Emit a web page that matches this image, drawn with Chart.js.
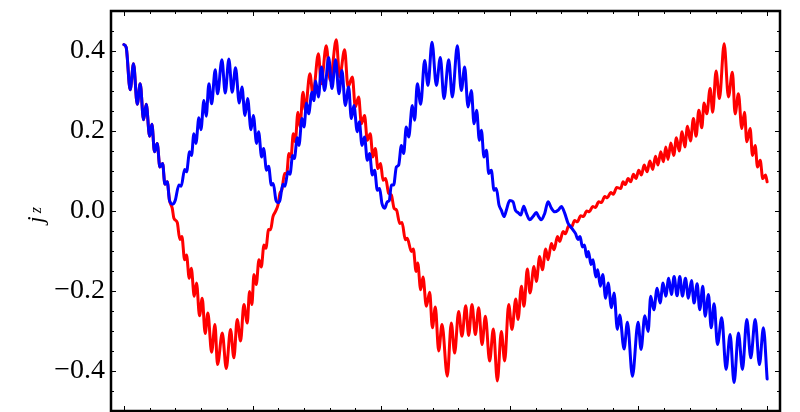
<!DOCTYPE html>
<html>
<head>
<meta charset="utf-8">
<script src="https://cdn.jsdelivr.net/npm/chart.js@4"></script>
<style>
  html, body { margin: 0; padding: 0; background: #fff; }
  #quadro { width: 800px; height: 412px; position: relative; }
</style>
</head>
<body>
<div id="quadro"><canvas id="grafico"></canvas></div>
<script>
/* j_z em função do tempo: curva azul e curva vermelha. */
const blueX = [
  0, 0.018, 0.049, 0.075, 0.104, 0.127, 0.153, 0.174, 0.200, 0.218,
  0.238, 0.259, 0.280, 0.301, 0.319, 0.337, 0.355, 0.381, 0.399, 0.428,
  0.446, 0.472, 0.487, 0.511, 0.526, 0.544, 0.560, 0.583, 0.599, 0.622,
  0.640, 0.661, 0.682, 0.710, 0.728, 0.762, 0.788, 0.816, 0.842, 0.868,
  0.897, 0.918, 0.941, 0.962, 0.988, 1.006, 1.032, 1.047, 1.071, 1.086,
  1.109, 1.125, 1.146, 1.161, 1.182, 1.198, 1.213, 1.236, 1.252, 1.275,
  1.291, 1.312, 1.325, 1.348, 1.361, 1.384, 1.400, 1.420, 1.436, 1.462,
  1.477, 1.490, 1.512, 1.536, 1.560, 1.592, 1.617, 1.646, 1.672, 1.695,
  1.721, 1.747, 1.768, 1.788, 1.814, 1.830, 1.851, 1.871, 1.892, 1.910,
  1.931, 1.949, 1.970, 1.988, 2.006, 2.027, 2.048, 2.063, 2.079, 2.097,
  2.118, 2.136, 2.157, 2.175, 2.195, 2.214, 2.242, 2.260, 2.281, 2.307,
  2.338, 2.364, 2.395, 2.429, 2.460, 2.488, 2.525, 2.553, 2.592, 2.623,
  2.649, 2.675, 2.701, 2.722, 2.742, 2.763, 2.779, 2.799, 2.818, 2.836,
  2.856, 2.877, 2.895, 2.916, 2.934, 2.955, 2.973, 2.999, 3.025, 3.043,
  3.064, 3.085, 3.108, 3.129, 3.154, 3.180, 3.206, 3.224, 3.245, 3.271,
  3.297, 3.323, 3.349, 3.375, 3.401, 3.427, 3.453, 3.473, 3.491, 3.510,
  3.530, 3.546, 3.564, 3.580, 3.598, 3.611, 3.631, 3.647, 3.668, 3.683,
  3.704, 3.722, 3.745, 3.764, 3.790, 3.810, 3.836, 3.854, 3.888, 3.914,
  3.953, 3.997, 4.020, 4.049, 4.075, 4.095, 4.119, 4.145, 4.168, 4.191,
  4.212, 4.235, 4.256, 4.277, 4.300, 4.321, 4.342, 4.365, 4.388, 4.412,
  4.432, 4.456, 4.476, 4.500, 4.518, 4.544, 4.565, 4.588, 4.614, 4.647,
  4.681, 4.712, 4.743, 4.777, 4.808, 4.842, 4.873, 4.907, 4.940, 4.971,
  5.000
];
const blueY = [
  0.416, 0.409, 0.303, 0.368, 0.267, 0.318, 0.228, 0.267, 0.187, 0.217,
  0.148, 0.169, 0.110, 0.119, 0.067, 0.073, 0.026, 0.017, 0.026, 0.065,
  0.062, 0.104, 0.098, 0.148, 0.139, 0.193, 0.169, 0.233, 0.203, 0.276,
  0.237, 0.318, 0.268, 0.353, 0.293, 0.378, 0.295, 0.380, 0.297, 0.358,
  0.270, 0.310, 0.239, 0.281, 0.203, 0.239, 0.169, 0.198, 0.135, 0.156,
  0.102, 0.112, 0.065, 0.069, 0.027, 0.021, 0.027, 0.067, 0.062, 0.098,
  0.092, 0.139, 0.131, 0.183, 0.164, 0.231, 0.210, 0.270, 0.243, 0.297,
  0.276, 0.325, 0.285, 0.360, 0.301, 0.384, 0.306, 0.378, 0.293, 0.351,
  0.264, 0.310, 0.231, 0.264, 0.198, 0.223, 0.164, 0.185, 0.127, 0.144,
  0.090, 0.102, 0.052, 0.056, 0.019, 0.007, 0.023, 0.026, 0.065, 0.065,
  0.110, 0.115, 0.164, 0.144, 0.210, 0.185, 0.264, 0.227, 0.318, 0.267,
  0.376, 0.314, 0.422, 0.314, 0.384, 0.281, 0.378, 0.285, 0.413, 0.301,
  0.360, 0.260, 0.301, 0.218, 0.252, 0.177, 0.202, 0.135, 0.152, 0.094,
  0.102, 0.052, 0.056, 0.015, 0.002, -0.014, 0.002, 0.026, 0.023, 0.002,
  -0.004, -0.010, 0.012, -0.006, -0.022, -0.014, -0.004, -0.014, -0.022, -0.006,
  0.023, 0.007, -0.002, 0.002, 0.011, -0.006, -0.031, -0.039, -0.047, -0.056,
  -0.071, -0.064, -0.090, -0.085, -0.115, -0.101, -0.134, -0.122, -0.165, -0.147,
  -0.188, -0.159, -0.218, -0.180, -0.242, -0.205, -0.296, -0.260, -0.345, -0.278,
  -0.413, -0.278, -0.346, -0.262, -0.301, -0.213, -0.247, -0.193, -0.230, -0.180,
  -0.213, -0.168, -0.209, -0.164, -0.212, -0.164, -0.213, -0.168, -0.218, -0.174,
  -0.230, -0.182, -0.247, -0.188, -0.263, -0.209, -0.292, -0.232, -0.334, -0.267,
  -0.396, -0.309, -0.429, -0.305, -0.396, -0.271, -0.367, -0.271, -0.384, -0.292,
  -0.420
];
const redX = [
  0, 0.018, 0.049, 0.075, 0.104, 0.127, 0.153, 0.174, 0.200, 0.218,
  0.238, 0.259, 0.280, 0.301, 0.319, 0.337, 0.355, 0.376, 0.389, 0.415,
  0.435, 0.451, 0.472, 0.487, 0.508, 0.524, 0.547, 0.565, 0.588, 0.609,
  0.632, 0.653, 0.682, 0.708, 0.728, 0.765, 0.796, 0.829, 0.855, 0.881,
  0.907, 0.933, 0.959, 0.977, 0.995, 1.011, 1.029, 1.050, 1.068, 1.089,
  1.104, 1.125, 1.140, 1.159, 1.177, 1.198, 1.213, 1.229, 1.249, 1.265,
  1.283, 1.299, 1.317, 1.332, 1.353, 1.369, 1.392, 1.410, 1.446, 1.470,
  1.512, 1.534, 1.573, 1.604, 1.651, 1.677, 1.716, 1.742, 1.776, 1.799,
  1.825, 1.846, 1.871, 1.892, 1.915, 1.936, 1.954, 1.975, 1.996, 2.014,
  2.035, 2.058, 2.079, 2.100, 2.120, 2.144, 2.162, 2.188, 2.203, 2.234,
  2.250, 2.271, 2.284, 2.307, 2.325, 2.351, 2.377, 2.398, 2.421, 2.447,
  2.473, 2.514, 2.545, 2.571, 2.602, 2.628, 2.657, 2.680, 2.706, 2.732,
  2.758, 2.784, 2.810, 2.843, 2.872, 2.903, 2.934, 2.960, 2.991, 3.017,
  3.046, 3.064, 3.090, 3.110, 3.136, 3.157, 3.188, 3.206, 3.232, 3.253,
  3.279, 3.297, 3.323, 3.344, 3.370, 3.388, 3.414, 3.432, 3.458, 3.478,
  3.504, 3.525, 3.551, 3.572, 3.598, 3.618, 3.644, 3.665, 3.691, 3.712,
  3.738, 3.758, 3.784, 3.805, 3.831, 3.862, 3.880, 3.898, 3.919, 3.940,
  3.961, 3.981, 4.002, 4.023, 4.044, 4.067, 4.088, 4.111, 4.132, 4.152,
  4.173, 4.194, 4.212, 4.230, 4.251, 4.274, 4.295, 4.316, 4.339, 4.360,
  4.381, 4.404, 4.427, 4.448, 4.469, 4.492, 4.510, 4.531, 4.557, 4.577,
  4.603, 4.629, 4.666, 4.699, 4.730, 4.751, 4.777, 4.803, 4.824, 4.842,
  4.868, 4.886, 4.907, 4.925, 4.946, 4.966, 4.987, 5.000
];
const redY = [
  0.416, 0.409, 0.303, 0.368, 0.267, 0.318, 0.228, 0.267, 0.187, 0.217,
  0.148, 0.169, 0.110, 0.119, 0.067, 0.073, 0.026, 0.007, -0.018, -0.029,
  -0.071, -0.064, -0.122, -0.110, -0.168, -0.143, -0.213, -0.180, -0.262, -0.218,
  -0.306, -0.255, -0.353, -0.284, -0.384, -0.305, -0.394, -0.296, -0.367, -0.271,
  -0.325, -0.234, -0.280, -0.201, -0.234, -0.159, -0.184, -0.122, -0.140, -0.085,
  -0.093, -0.046, -0.047, -0.014, -0.002, 0.015, 0.044, 0.054, 0.094, 0.092,
  0.144, 0.135, 0.193, 0.173, 0.247, 0.210, 0.297, 0.252, 0.343, 0.290,
  0.393, 0.318, 0.413, 0.326, 0.428, 0.335, 0.403, 0.310, 0.335, 0.260,
  0.285, 0.218, 0.239, 0.177, 0.193, 0.135, 0.156, 0.106, 0.119, 0.077,
  0.081, 0.044, 0.040, 0.007, 0.002, -0.031, -0.029, -0.072, -0.068, -0.101,
  -0.095, -0.151, -0.130, -0.197, -0.165, -0.238, -0.203, -0.292, -0.240, -0.350,
  -0.284, -0.413, -0.280, -0.355, -0.251, -0.313, -0.237, -0.311, -0.234, -0.309,
  -0.242, -0.334, -0.263, -0.375, -0.295, -0.425, -0.301, -0.375, -0.234, -0.296,
  -0.220, -0.271, -0.188, -0.238, -0.145, -0.205, -0.139, -0.176, -0.114, -0.147,
  -0.095, -0.122, -0.081, -0.097, -0.064, -0.076, -0.051, -0.057, -0.037, -0.041,
  -0.024, -0.027, -0.012, -0.014, 0.000, -0.002, 0.011, 0.009, 0.023, 0.021,
  0.036, 0.033, 0.046, 0.042, 0.059, 0.056, 0.073, 0.066, 0.081, 0.073,
  0.092, 0.081, 0.102, 0.090, 0.115, 0.098, 0.125, 0.104, 0.137, 0.115,
  0.148, 0.123, 0.160, 0.129, 0.170, 0.139, 0.183, 0.150, 0.198, 0.160,
  0.212, 0.175, 0.231, 0.187, 0.252, 0.208, 0.270, 0.243, 0.306, 0.247,
  0.350, 0.281, 0.418, 0.285, 0.347, 0.243, 0.293, 0.206, 0.247, 0.173,
  0.206, 0.139, 0.164, 0.110, 0.127, 0.081, 0.090, 0.073
];

const yTickValues = [-0.4, -0.2, 0, 0.2, 0.4];
const yTickLabels = ["\u22120.4", "\u22120.2", "0.0", "0.2", "0.4"];
const X_MAJOR = 1, X_MINOR = 0.2;
const Y_MAJOR = 0.2, Y_MINOR = 0.05;
const TICK_MAIOR = 5, TICK_MENOR = 3;
const FONTE = '"Liberation Serif", "Times New Roman", serif';

function pontos(xs, ys) {
  return xs.map((x, i) => ({ x, y: ys[i] }));
}

function quaseMultiplo(v, passo) {
  const r = v / passo;
  return Math.abs(r - Math.round(r)) < 1e-6;
}

/* moldura estilo Mathematica: ticks para dentro nos quatro lados */
const moldura = {
  id: "moldura",
  afterDatasetsDraw(chart) {
    const { ctx, chartArea: a, scales: { x, y } } = chart;
    ctx.save();
    ctx.strokeStyle = "#000";
    ctx.lineWidth = 1;
    ctx.beginPath();
    for (let v = 0; v <= 5 + 1e-9; v += X_MINOR) {
      const px = Math.round(x.getPixelForValue(v)) + 0.5;
      const len = quaseMultiplo(v, X_MAJOR) ? TICK_MAIOR : TICK_MENOR;
      ctx.moveTo(px, a.bottom); ctx.lineTo(px, a.bottom - len);
      ctx.moveTo(px, a.top); ctx.lineTo(px, a.top + len);
    }
    for (let k = -9; k <= 9; k++) {
      const v = k * Y_MINOR;
      const py = Math.round(y.getPixelForValue(v)) + 0.5;
      const len = quaseMultiplo(v, Y_MAJOR) ? TICK_MAIOR : TICK_MENOR;
      ctx.moveTo(a.left, py); ctx.lineTo(a.left + len, py);
      ctx.moveTo(a.right, py); ctx.lineTo(a.right - len, py);
    }
    ctx.stroke();
    ctx.lineWidth = 2.5;
    ctx.strokeRect(a.left, a.top, a.right - a.left, a.bottom - a.top);

    // rótulo do eixo y: j com índice z, girado
    ctx.fillStyle = "#000";
    ctx.translate(43, 223);
    ctx.rotate(-Math.PI / 2);
    ctx.textAlign = "left";
    ctx.textBaseline = "alphabetic";
    ctx.font = "italic 24px " + FONTE;
    ctx.fillText("j", 0, 0);
    const w = ctx.measureText("j").width;
    ctx.font = "italic 16px " + FONTE;
    ctx.fillText("z", w + 3, -2);
    ctx.restore();
  }
};

const serie = (rotulo, cor, dados) => ({
  label: rotulo,
  data: dados,
  borderColor: cor,
  backgroundColor: cor,
  borderWidth: 3,
  pointRadius: 0,
  fill: false,
  cubicInterpolationMode: "monotone",
  borderJoinStyle: "round",
  borderCapStyle: "round",
});

new Chart(document.getElementById("grafico"), {
  type: "line",
  data: {
    datasets: [
      serie("azul", "#0000ff", pontos(blueX, blueY)),
      serie("vermelho", "#ff0000", pontos(redX, redY)),
    ],
  },
  options: {
    responsive: true,
    maintainAspectRatio: false,
    animation: false,
    layout: { padding: { top: 11, right: 20, bottom: 1, left: 0 } },
    plugins: { legend: { display: false }, tooltip: { enabled: false } },
    scales: {
      x: { type: "linear", min: -0.1, max: 5.1, display: false },
      y: {
        type: "linear",
        min: -0.5,
        max: 0.5,
        grid: { display: false, drawTicks: false },
        border: { display: false },
        afterBuildTicks: s => { s.ticks = yTickValues.map(v => ({ value: v })); },
        afterFit: s => {
          s.width = 111;
          s.paddingTop = 0;
          s.paddingBottom = 0;
        },
        ticks: {
          padding: 6,
          color: "#000",
          font: { family: FONTE, size: 28 },
          callback: (v, i) => yTickLabels[i],
        },
      },
    },
  },
  plugins: [moldura],
});
</script>
</body>
</html>
